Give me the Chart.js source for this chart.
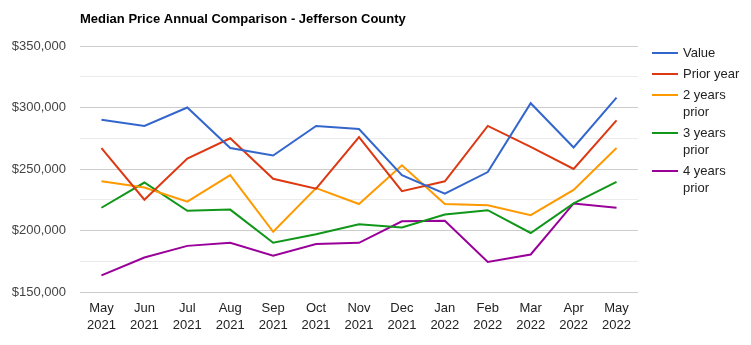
<!DOCTYPE html>
<html lang="en">
<head>
  <meta charset="UTF-8" />
  <title>Median Price Annual Comparison - Jefferson County</title>
  <script src="https://cdn.jsdelivr.net/npm/chart.js"></script>
  <style>
    html, body {
      margin: 0;
      padding: 0;
      background: #ffffff;
      font-family: Arial, "Liberation Sans", sans-serif;
    }
    .wrap {
      position: relative;
      width: 751px;
      height: 345px;
    }
    /* legend sits to the right of the plot, text wraps like the original */
    #legend {
      position: absolute;
      left: 652px;
      top: 44px;
      font-size: 13px;
      color: #222;
    }
    .item {
      display: flex;
      align-items: flex-start;
      margin-bottom: 4px;
      line-height: 17px;
    }
    .swatch {
      width: 26px;
      height: 2px;
      margin-top: 8px;
      margin-right: 5px;
      flex: none;
    }
    .lbl {
      max-width: 64px;
    }
  </style>
</head>
<body>
  <div class="wrap">
    <canvas id="priceChart" width="751" height="345"></canvas>
    <div id="legend"></div>
  </div>

  <script>
    // months on the x axis (two-line labels)
    const months = [
      ['May', '2021'], ['Jun', '2021'], ['Jul', '2021'], ['Aug', '2021'],
      ['Sep', '2021'], ['Oct', '2021'], ['Nov', '2021'], ['Dec', '2021'],
      ['Jan', '2022'], ['Feb', '2022'], ['Mar', '2022'], ['Apr', '2022'],
      ['May', '2022']
    ];

    const valueNow   = [290000, 285000, 300000, 267000, 261000, 285000, 282500, 245000, 230000, 247500, 303500, 267500, 308000];
    const priorYear  = [267000, 225000, 258500, 275000, 242000, 234000, 276000, 232000, 240000, 285000, 268000, 250000, 289500];
    const twoYears   = [240000, 235000, 223500, 245000, 199000, 234500, 221500, 253000, 221500, 220500, 212500, 233000, 267000];
    const threeYears = [218500, 239000, 216000, 217000, 190000, 197000, 205000, 202500, 213000, 216500, 198000, 222000, 239500];
    const fourYears  = [163500, 178000, 187500, 190000, 179500, 189000, 190000, 207500, 208000, 174500, 180500, 222000, 218500];

    const seriesNames = ['Value', 'Prior year', '2 years prior', '3 years prior', '4 years prior'];
    const seriesColors = ['#3366cc', '#dc3912', '#ff9900', '#109618', '#990099'];
    const seriesData = [valueNow, priorYear, twoYears, threeYears, fourYears];

    const yMin = 150000;
    const yMax = 350000;

    const money = v => '$' + v.toLocaleString('en-US');

    // title drawn at the left edge of the plot area
    const titlePlugin = {
      id: 'leftTitle',
      afterDraw(chart) {
        const c = chart.ctx;
        c.save();
        c.font = 'bold 13px Arial, "Liberation Sans", sans-serif';
        c.fillStyle = '#000';
        c.textBaseline = 'middle';
        c.textAlign = 'left';
        c.fillText('Median Price Annual Comparison - Jefferson County', chart.chartArea.left, 19);
        c.restore();
      }
    };

    Chart.defaults.font.family = 'Arial, "Liberation Sans", sans-serif';
    Chart.defaults.font.size = 13;
    Chart.defaults.color = '#444';

    const chart = new Chart(document.getElementById('priceChart'), {
      type: 'line',
      data: {
        labels: months,
        datasets: seriesData.map((d, i) => ({
          label: seriesNames[i],
          data: d,
          borderColor: seriesColors[i],
          backgroundColor: seriesColors[i],
          borderWidth: 2,
          pointRadius: 0,
          pointHoverRadius: 0,
          tension: 0,
          fill: false
        }))
      },
      options: {
        responsive: false,
        animation: false,
        layout: { padding: { top: 46, right: 113, bottom: 0, left: 0 } },
        plugins: {
          legend: { display: false },
          title: { display: false },
          tooltip: { enabled: false }
        },
        scales: {
          x: {
            offset: true,
            grid: { display: false },
            border: { display: false },
            ticks: {
              color: '#222',
              maxRotation: 0,
              autoSkip: false,
              padding: 0,
              font: { size: 13, lineHeight: 1.3 }
            },
            afterFit(scale) { scale.height = 53; }
          },
          y: {
            min: yMin,
            max: yMax,
            border: { display: false },
            grid: {
              drawTicks: false,
              color: ctx => (ctx.tick && ctx.tick.value % 50000 === 0) ? '#cccccc' : '#ebebeb',
              lineWidth: 1
            },
            ticks: {
              stepSize: 25000,
              autoSkip: false,
              padding: 14,
              color: '#444',
              callback: v => (v % 50000 === 0 ? money(v) : '')
            },
            afterFit(scale) { scale.width = 80; }
          }
        }
      },
      plugins: [titlePlugin]
    });

    // html legend so long labels can wrap
    const legendBox = document.getElementById('legend');
    chart.data.datasets.forEach(ds => {
      const item = document.createElement('div');
      item.className = 'item';
      const sw = document.createElement('div');
      sw.className = 'swatch';
      sw.style.background = ds.borderColor;
      const lbl = document.createElement('div');
      lbl.className = 'lbl';
      lbl.textContent = ds.label;
      item.appendChild(sw);
      item.appendChild(lbl);
      legendBox.appendChild(item);
    });
  </script>
</body>
</html>
